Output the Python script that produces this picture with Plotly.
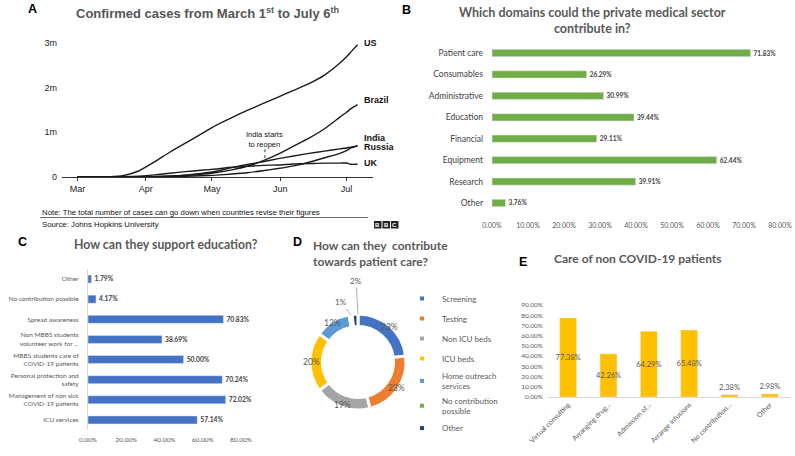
import math
import plotly.graph_objects as go

W, H = 795, 456
def px(x): return x / W
def py(y): return 1 - y / H

# ---------------- Panel A data (millions of confirmed cases) ----------------
dates_a = ["2020-03-01", "2020-03-08", "2020-03-15", "2020-03-22", "2020-03-29",
           "2020-04-05", "2020-04-12", "2020-04-19", "2020-04-26", "2020-05-03",
           "2020-05-10", "2020-05-17", "2020-05-24", "2020-05-31", "2020-06-07",
           "2020-06-14", "2020-06-21", "2020-06-28", "2020-07-01", "2020-07-03",
           "2020-07-06"]
us = [0.0001, 0.0005, 0.0036, 0.033, 0.14, 0.34, 0.56, 0.76, 0.96, 1.16, 1.33,
      1.49, 1.64, 1.79, 1.94, 2.09, 2.28, 2.55, 2.69, 2.80, 2.96]
brazil = [0, 0, 0.0002, 0.0015, 0.004, 0.011, 0.022, 0.039, 0.062, 0.10, 0.16,
          0.24, 0.36, 0.51, 0.69, 0.87, 1.08, 1.34, 1.45, 1.53, 1.62]
india = [0, 0, 0.0001, 0.0004, 0.001, 0.004, 0.009, 0.017, 0.027, 0.042, 0.067,
         0.096, 0.14, 0.19, 0.25, 0.33, 0.43, 0.53, 0.59, 0.65, 0.70]
russia = [0, 0, 0, 0.0004, 0.0015, 0.006, 0.016, 0.043, 0.08, 0.13, 0.21,
          0.28, 0.34, 0.41, 0.47, 0.53, 0.58, 0.63, 0.65, 0.67, 0.69]
uk = [0, 0.0003, 0.0011, 0.0057, 0.02, 0.048, 0.085, 0.12, 0.15, 0.18, 0.22,
      0.24, 0.26, 0.27, 0.29, 0.30, 0.31, 0.31, 0.314, 0.284, 0.286]
a_labels = ["US", "Brazil", "India", "Russia", "UK"]
a_label_y = [3.0, 1.72, 0.88, 0.68, 0.31]
a_yticks = [0, 1, 2, 3]
a_yticktext = ["0", "1m", "2m", "3m"]
a_xticks = ["2020-03-01", "2020-04-01", "2020-05-01", "2020-06-01", "2020-07-01"]
a_xticktext = ["Mar", "Apr", "May", "Jun", "Jul"]
reopen_date = "2020-05-25"

# ---------------- Panel B ----------------
b_cats = ["Patient care", "Consumables", "Administrative", "Education",
          "Financial", "Equipment", "Research", "Other"]
b_vals = [71.83, 26.29, 30.99, 39.44, 29.11, 62.44, 39.91, 3.76]
b_ticks = [0, 10, 20, 30, 40, 50, 60, 70, 80]

# ---------------- Panel C ----------------
c_cats = ["Other", "No contribution possible", "Spread awareness",
          "Non MBBS students<br>volunteer work for ...",
          "MBBS students care of<br>COVID-19 patients",
          "Personal protection and<br>safety",
          "Management of non sick<br>COVID-19 patients", "ICU services"]
c_vals = [1.79, 4.17, 70.83, 38.69, 50.00, 70.24, 72.02, 57.14]
c_ticks = [0, 20, 40, 60, 80]

# ---------------- Panel D ----------------
d_names = ["Screening", "Testing", "Non ICU beds", "ICU beds",
           "Home outreach<br>services", "No contribution<br>possible", "Other"]
d_vals = [23, 23, 19, 20, 12, 1, 2]
d_colors = ["#4472C4", "#ED7D31", "#A5A5A5", "#FFC000", "#5B9BD5", "#70AD47", "#264478"]

# ---------------- Panel E ----------------
e_cats = ["Virtual consulting", "Arranging drug...", "Admission of...",
          "Arrange infusions", "No contribution...", "Other"]
e_vals = [77.38, 42.26, 64.29, 65.48, 2.38, 2.98]
e_ticks = [0, 10, 20, 30, 40, 50, 60, 70, 80, 90]

ARIAL = "Liberation Sans, Arial, sans-serif"
CAL = "Lato, Open Sans, sans-serif"
GREY_T = "#595959"

fig = go.Figure()

# Panel A lines
for name, vals in zip(a_labels, [us, brazil, india, russia, uk]):
    fig.add_trace(go.Scatter(x=dates_a, y=vals, mode="lines", name=name,
                             line=dict(color="#1a1a1a", width=1.4, shape="spline", smoothing=0.6),
                             showlegend=False, xaxis="x", yaxis="y", hoverinfo="skip"))

# Panel B bars
fig.add_trace(go.Bar(x=b_vals, y=b_cats, orientation="h", marker_color="#70AD47",
                     width=0.34, text=[f"<b>{v:.2f}%</b>" for v in b_vals], textposition="outside",
                     textfont=dict(family=CAL, size=6.5, color="#404040"),
                     cliponaxis=False, showlegend=False, xaxis="x2", yaxis="y2"))

# Panel C bars
fig.add_trace(go.Bar(x=c_vals, y=c_cats, orientation="h", marker_color="#4472C4",
                     width=0.4, text=[f"<b>{v:.2f}%</b>" for v in c_vals], textposition="outside",
                     textfont=dict(family=CAL, size=7.5, color="#404040"),
                     cliponaxis=False, showlegend=False, xaxis="x3", yaxis="y3"))

# Panel D donut
D_CX, D_CY, D_R = 358, 362, 48
fig.add_trace(go.Pie(labels=d_names, values=d_vals, sort=False, direction="clockwise",
                     rotation=0, hole=0.74, textinfo="none", showlegend=False,
                     marker=dict(colors=d_colors, line=dict(color="white", width=3)),
                     domain=dict(x=[px(D_CX - D_R), px(D_CX + D_R)],
                                 y=[py(D_CY + D_R), py(D_CY - D_R)]),
                     hoverinfo="label+percent"))
# legend entries for the donut (small square keys)
for nm, col in zip(d_names, d_colors):
    fig.add_trace(go.Scatter(x=[None], y=[None], mode="markers", name=nm,
                             marker=dict(symbol="square", size=4, color=col),
                             legendgroup=nm, showlegend=True, xaxis="x", yaxis="y"))

# Panel E bars
fig.add_trace(go.Bar(x=e_cats, y=e_vals, marker_color="#FFC000", width=0.42,
                     text=[f"{v:.2f}%" for v in e_vals], textposition="auto", textangle=0,
                     insidetextanchor="middle", constraintext="none",
                     insidetextfont=dict(family=CAL, size=7.5, color="#595959"),
                     outsidetextfont=dict(family=CAL, size=7.5, color="#595959"),
                     cliponaxis=False, showlegend=False, xaxis="x4", yaxis="y4"))

annotations = []
shapes = []

def note(x, y, text, font, xanchor="center", yanchor="middle", **kw):
    d = dict(x=px(x), y=py(y), xref="paper", yref="paper", text=text, showarrow=False,
             xanchor=xanchor, yanchor=yanchor, font=font)
    d.update(kw)
    annotations.append(d)

# Panel A annotations
for lab, yv in zip(a_labels, a_label_y):
    annotations.append(dict(x="2020-07-08", y=yv, xref="x", yref="y", text=f"<b>{lab}</b>",
                            showarrow=False, xanchor="left", yanchor="middle",
                            font=dict(family=ARIAL, size=9, color="#111")))
annotations.append(dict(x=reopen_date, y=0.83, xref="x", yref="y",
                        text="India starts<br>to reopen", showarrow=False,
                        xanchor="center", yanchor="middle",
                        font=dict(family=ARIAL, size=7.5, color="#111")))
shapes.append(dict(type="line", xref="x", yref="y", x0=reopen_date, x1=reopen_date,
                   y0=0.42, y1=0.62, line=dict(color="#333", width=1, dash="dot")))

note(207, 12.5, "<b>Confirmed cases from March 1<sup>st</sup> to July 6<sup>th</sup></b>",
     dict(family=ARIAL, size=13, color="#555"))
note(40, 212, "Note: The total number of cases can go down when countries revise their figures",
     dict(family=ARIAL, size=7.8, color="#111"), xanchor="left")
note(40, 224.5, "Source: Johns Hopkins University",
     dict(family=ARIAL, size=7.8, color="#111"), xanchor="left")
shapes.append(dict(type="line", xref="paper", yref="paper", x0=px(40), x1=px(368),
                   y0=py(217.5), y1=py(217.5), line=dict(color="#444", width=0.8)))
for i, ch in enumerate("BBC"):
    x0 = 374 + i * 8.5
    shapes.append(dict(type="rect", xref="paper", yref="paper", x0=px(x0), x1=px(x0 + 7.5),
                       y0=py(228.5), y1=py(221), fillcolor="#222", line=dict(width=0)))
    note(x0 + 3.75, 224.8, f"<b>{ch}</b>", dict(family=ARIAL, size=6, color="white"))

# Panel letters
for letter, (lx, ly) in zip("ABCDE", [(32, 9), (406, 10), (22, 242), (297, 242), (523, 262)]):
    note(lx, ly, f"<b>{letter}</b>", dict(family=ARIAL, size=12.5, color="#000"))

# Titles B-E
note(592, 20, "<b>Which domains could the private medical sector<br>contribute in?</b>",
     dict(family=CAL, size=12.5, color=GREY_T), align="center")
note(166, 244, "<b>How can they support education?</b>",
     dict(family=CAL, size=12.3, color=GREY_T))
note(311, 253, "<b>How can they  contribute<br>towards patient care?</b>",
     dict(family=CAL, size=12, color=GREY_T), xanchor="left", align="left")
note(638, 258, "<b>Care of non COVID-19 patients</b>",
     dict(family=CAL, size=12, color=GREY_T))

# Donut percentage labels placed on the ring rim, angle derived from the data
total = sum(d_vals)
cum = 0
for v in d_vals:
    mid = (cum + v / 2) / total
    cum += v
    if v < 5:
        continue
    th = 2 * math.pi * mid
    note(D_CX + 47 * math.sin(th), D_CY - 46 * math.cos(th), f"{v}%",
         dict(family=CAL, size=8.5, color="#595959"))

# Small donut slice labels with leader lines
annotations += [
    dict(x=px(358), y=py(314), xref="paper", yref="paper", text=f"{d_vals[6]}%",
         showarrow=True, arrowhead=0, arrowwidth=0.8, arrowcolor="#999", ax=-2, ay=-33,
         font=dict(family=CAL, size=8, color="#595959")),
    dict(x=px(351), y=py(315), xref="paper", yref="paper", text=f"{d_vals[5]}%",
         showarrow=True, arrowhead=0, arrowwidth=0.8, arrowcolor="#999", ax=-10, ay=-13,
         font=dict(family=CAL, size=8, color="#595959")),
]

fig.update_layout(
    width=W, height=H, margin=dict(l=0, r=0, t=0, b=0, autoexpand=False),
    paper_bgcolor="white", plot_bgcolor="white",
    annotations=annotations, shapes=shapes, bargap=0.6,
    legend=dict(x=px(402), y=py(284), xanchor="left", yanchor="top",
                font=dict(family=CAL, size=8, color="#595959"),
                bgcolor="rgba(0,0,0,0)", itemwidth=30, tracegroupgap=1),
    xaxis=dict(domain=[px(62), px(373)], type="date",
               range=["2020-02-23", "2020-07-13"], tickvals=a_xticks, ticktext=a_xticktext,
               showgrid=False, showline=True, linecolor="#333", linewidth=1,
               ticks="outside", ticklen=3, tickcolor="#333",
               tickfont=dict(family=ARIAL, size=9, color="#222"), anchor="y", fixedrange=True),
    yaxis=dict(domain=[py(177), py(38.5)], range=[0, 3.1], tickvals=a_yticks,
               ticktext=a_yticktext, showgrid=False, zeroline=False, showline=False,
               tickfont=dict(family=ARIAL, size=9, color="#222"), anchor="x", ticklabelstandoff=4),
    xaxis2=dict(domain=[px(492), px(780)], range=[0, 80], tickvals=b_ticks,
                ticktext=[f"{t:.2f}%" for t in b_ticks], showgrid=False, zeroline=False,
                showline=False, tickfont=dict(family=CAL, size=7, color="#595959"), anchor="y2",
                ticklabelstandoff=6),
    yaxis2=dict(domain=[py(213.7), py(42.3)], autorange="reversed", showgrid=False,
                showline=False, tickfont=dict(family=CAL, size=8.5, color="#404040"),
                anchor="x2", ticklabelstandoff=8),
    xaxis3=dict(domain=[px(88), px(241)], range=[0, 80], tickvals=c_ticks,
                ticktext=[f"{t:.2f}%" for t in c_ticks], showgrid=False, zeroline=False,
                showline=False, tickfont=dict(family=CAL, size=6.5, color="#595959"), anchor="y3",
                ticklabelstandoff=4),
    yaxis3=dict(domain=[py(430), py(269)], autorange="reversed", showgrid=False,
                showline=True, linecolor="#d9d9d9", linewidth=1,
                tickfont=dict(family=CAL, size=6.5, color="#595959"),
                anchor="x3", ticklabelstandoff=7),
    xaxis4=dict(domain=[px(548), px(790)], showgrid=False, showline=True,
                linecolor="#d9d9d9", linewidth=1, tickangle=-45,
                tickfont=dict(family=CAL, size=7, color="#595959"), anchor="y4"),
    yaxis4=dict(domain=[py(397), py(305)], range=[0, 90], tickvals=e_ticks,
                ticktext=[f"{t:.2f}%" for t in e_ticks], showgrid=False, zeroline=False,
                showline=False, tickfont=dict(family=CAL, size=6.5, color="#595959"), anchor="x4",
                ticklabelstandoff=4),
)
fig.update_xaxes(automargin=False)
fig.update_yaxes(automargin=False)

# remove the browser's default 8px page margin so the figure fills the window
fig.write_html("out.html", config={"displayModeBar": False},
               post_script="document.body.style.margin='0';")
